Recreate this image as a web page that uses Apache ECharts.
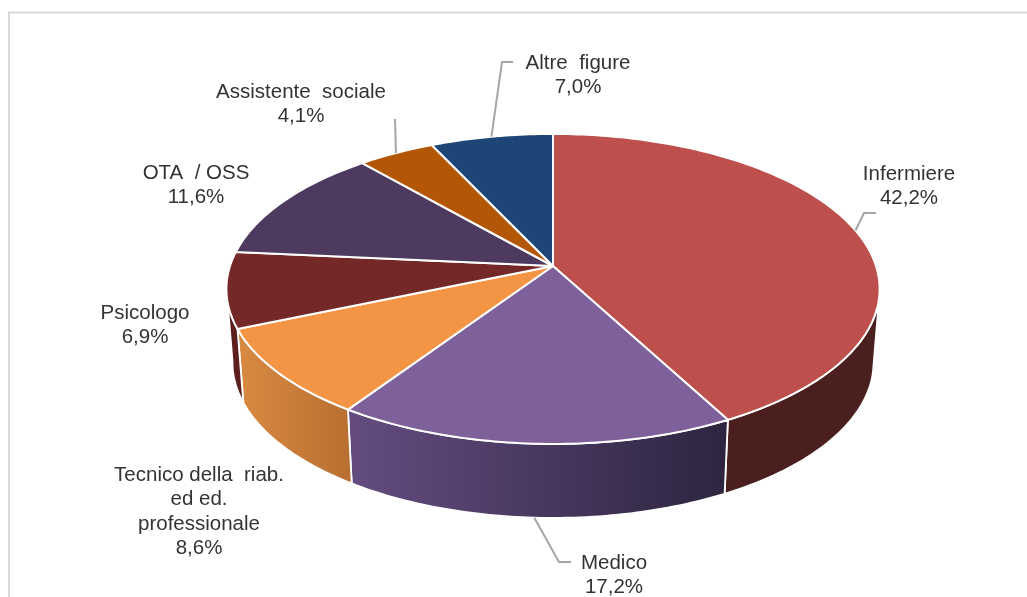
<!DOCTYPE html>
<html>
<head>
<meta charset="utf-8">
<style>html,body{margin:0;padding:0;background:#fff;overflow:hidden}#c{width:1027px;height:597px}</style>
<script src="https://cdn.jsdelivr.net/npm/echarts@6/dist/echarts.min.js"></script>
</head>
<body>
<div id="c"></div>
<script>
// ---- data ----
var categories = ['Infermiere', 'Medico', 'Tecnico della  riab.\ned ed.\nprofessionale', 'Psicologo', 'OTA  / OSS', 'Assistente  sociale', 'Altre  figure'];
var printedShares = [42.2, 17.2, 8.6, 6.9, 11.6, 4.1, 7.0];   // percentages printed on the labels
var drawnShares = [42.2, 17.2, 9.2, 7.9, 12.1, 4.4, 7.0];     // slice sizes as drawn (they sum to 100)

// ---- styles ----
var faceColors = ['#bd4f4d', '#7e609b', '#f49546', '#742828', '#4e3a5e', '#b35706', '#1d4677'];
var wallStops = [['#4a1f1d', '#4a1f1d'], ['#644c80', '#2d2540'], ['#d88a42', '#b86f30'], ['#5c1f1d', '#5c1f1d'], null, null, null];

// ---- perspective geometry of the tilted disc ----
var topRing = { cx: 553, cy: 266, b: 323, a: 151.6, p: 0.148 };
var bottomRing = { cx: 553, cy: 339.5, b: 317, a: 152, p: 0.148 };
var wallFrom = 100, wallTo = 262;      // silhouette angles of the side wall

// ---- label layout: centre x, top y, leader elbow & end, ring the leader leaves from ----
var labelLayout = [
  { x: 909, y: 162, leader: [[864, 213], [876, 213]], ring: 'top' },
  { x: 614, y: 551, leader: [[559, 562], [571, 562]], ring: 'bottom' },
  { x: 199, y: 463, leader: null },
  { x: 145, y: 301, leader: null },
  { x: 196, y: 161, leader: null },
  { x: 301, y: 80, leader: [[395, 119]], ring: 'top' },
  { x: 578, y: 51, leader: [[502, 62], [513, 62]], ring: 'top' }
];

var FONT = '20.5px "Liberation Sans", Arial, sans-serif';

function project(ring, deg) {
  var t = deg * Math.PI / 180, s = Math.sin(t), c = Math.cos(t), d = 1 + ring.p * c;
  return [ring.cx + ring.b * s / d, ring.cy - ring.a * c / d];
}
function arc(ring, from, to) {
  var pts = [], n = Math.max(2, Math.ceil(Math.abs(to - from)));
  for (var i = 0; i <= n; i++) pts.push(project(ring, from + (to - from) * i / n));
  return pts;
}
var total = drawnShares.reduce(function (a, b) { return a + b; }, 0);
function sliceAngles(i) {
  var s = 0;
  for (var k = 0; k < i; k++) s += drawnShares[k];
  return [s / total * 360, (s + drawnShares[i]) / total * 360];
}

var seriesData = drawnShares.map(function (v, i) { return { name: categories[i], value: v }; });

function renderWall(params, api) {
  var i = params.dataIndex, a = sliceAngles(i);
  var from = Math.max(a[0], wallFrom), to = Math.min(a[1], wallTo);
  if (to <= from || !wallStops[i]) return { type: 'group', children: [] };
  var top = arc(topRing, from, to), bot = arc(bottomRing, from, to).reverse();
  var xs = top.concat(bot).map(function (p) { return p[0]; });
  var x0 = Math.max.apply(null, xs), x1 = Math.min.apply(null, xs);
  return {
    type: 'polygon',
    shape: { points: top.concat(bot) },
    style: {
      fill: { type: 'linear', global: true, x: x1, y: 0, x2: x0, y2: 0,
        colorStops: [{ offset: 0, color: wallStops[i][0] }, { offset: 1, color: wallStops[i][1] }] },
      stroke: '#ffffff', lineWidth: 1.8, lineJoin: 'round'
    }
  };
}
function renderFace(params, api) {
  var i = params.dataIndex, a = sliceAngles(i);
  var pts = [[topRing.cx, topRing.cy]].concat(arc(topRing, a[0], a[1]));
  return {
    type: 'polygon',
    shape: { points: pts },
    style: { fill: faceColors[i], stroke: '#ffffff', lineWidth: 2, lineJoin: 'round' }
  };
}
function renderLabel(params, api) {
  var i = params.dataIndex, a = sliceAngles(i), L = labelLayout[i], kids = [];
  var txt = categories[i] + '\n' + printedShares[i].toFixed(1).replace('.', ',') + '%';
  if (L.leader) {
    var ring = L.ring === 'bottom' ? bottomRing : topRing;
    var start = project(ring, (a[0] + a[1]) / 2);
    kids.push({ type: 'polyline', shape: { points: [start].concat(L.leader) },
      style: { fill: null, stroke: '#a6a6a6', lineWidth: 2 } });
  }
  kids.push({ type: 'text', x: L.x, y: L.y,
    style: { text: txt, font: FONT, fill: '#333333', align: 'center', verticalAlign: 'top', lineHeight: 24.5 } });
  return { type: 'group', children: kids };
}

var chart = echarts.init(document.getElementById('c'), null, { renderer: 'canvas' });
chart.setOption({
  animation: false,
  backgroundColor: '#ffffff',
  tooltip: { show: false },
  graphic: [
    { type: 'polyline', silent: true, shape: { points: [[9, 597], [9, 12.5], [1027, 12.5]] },
      style: { fill: null, stroke: '#d9d9d9', lineWidth: 2 } }
  ],
  series: [
    { type: 'custom', name: 'walls', coordinateSystem: 'none', z: 1, silent: true, renderItem: renderWall, data: seriesData },
    { type: 'custom', name: 'faces', coordinateSystem: 'none', z: 2, silent: true, renderItem: renderFace, data: seriesData },
    { type: 'custom', name: 'labels', coordinateSystem: 'none', z: 3, silent: true, renderItem: renderLabel, data: seriesData }
  ]
});
</script>
</body>
</html>
